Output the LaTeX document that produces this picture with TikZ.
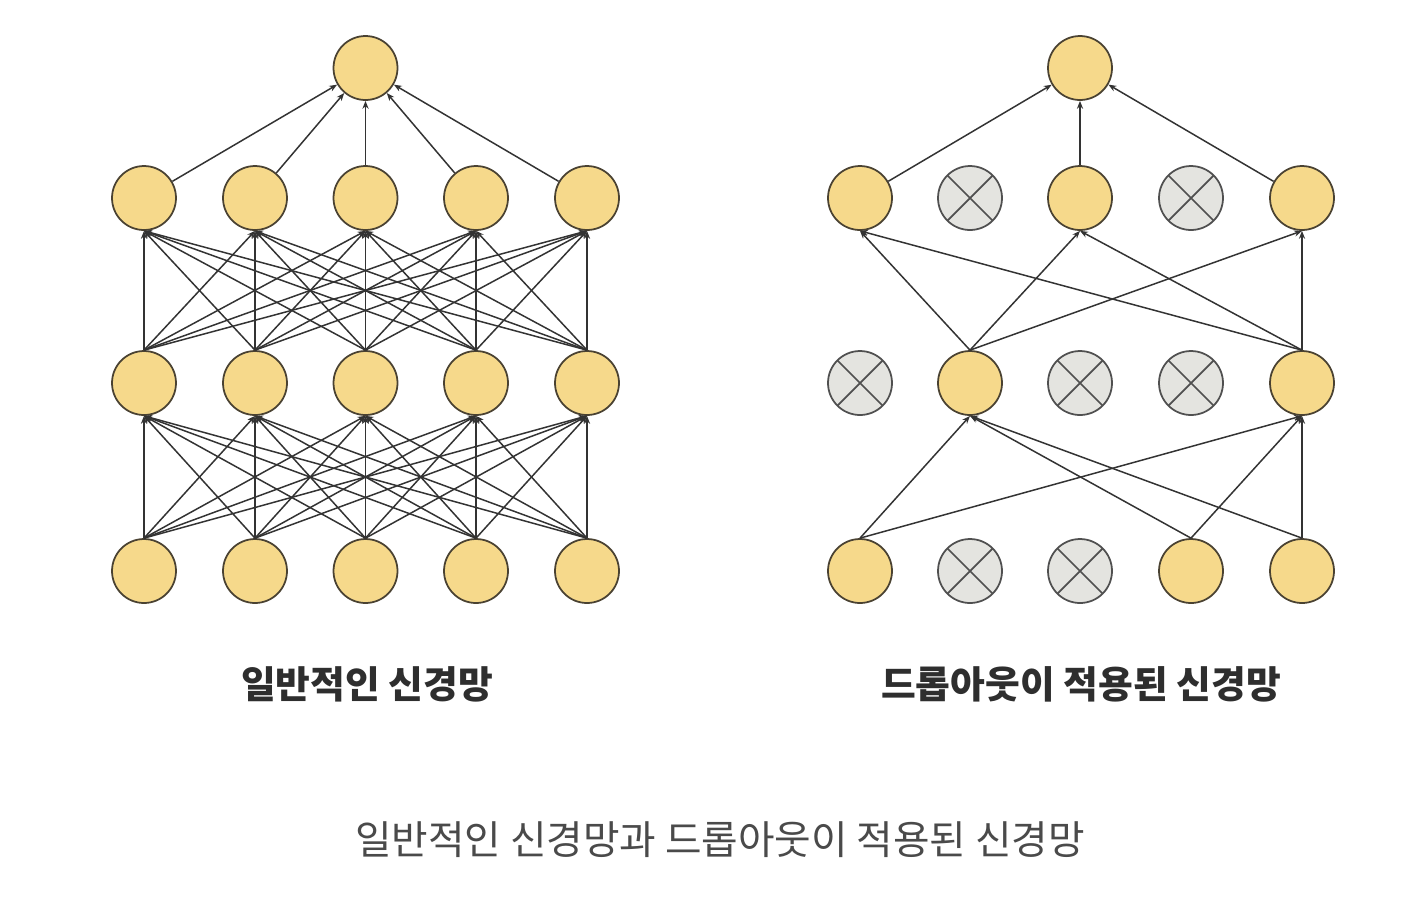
\documentclass[tikz,border=0pt]{standalone}
\usepackage{fontspec}
\newfontfamily\kr{Noto Sans CJK KR}
\usetikzlibrary{arrows.meta, positioning}
\definecolor{unitfill}{HTML}{F6D98B}
\definecolor{unitline}{HTML}{4A4232}
\definecolor{dropfill}{HTML}{E4E4E0}
\definecolor{dropline}{HTML}{505050}
\definecolor{linkcol}{HTML}{333333}
\definecolor{textcol}{HTML}{2E2E2E}
\definecolor{captcol}{HTML}{4A4A4A}
\tikzset{
  unit/.style={circle, draw=unitline, fill=unitfill, line width=1pt,
    minimum size=1.28cm, inner sep=0pt},
  dropped/.style={unit, draw=dropline, fill=dropfill,
    path picture={\draw[dropline, line width=1pt]
      (path picture bounding box.north west) -- (path picture bounding box.south east)
      (path picture bounding box.north east) -- (path picture bounding box.south west);}},
  link/.style={draw=linkcol, line width=0.85pt, -{Stealth[length=4.5pt, width=3.5pt]}},
  title/.style={font=\kr\bfseries\fontsize{21.5}{25}\selectfont, text=textcol},
}

\begin{document}
\begin{tikzpicture}[x=0.02cm, y=-0.02cm]
    \useasboundingbox (0,0) rectangle (1417,921);
    % plain network
    \foreach \i/\x in {1/144, 2/255, 3/365.5, 4/476, 5/587} {
        \node[unit] (la\i) at (\x, 571) {};
        \node[unit] (lb\i) at (\x, 383) {};
        \node[unit] (lc\i) at (\x, 198) {};
    }
    \node[unit] (ltop) at (365.5, 68) {};
    \foreach \i in {1,...,5} {
        \foreach \j in {1,...,5} {
            \draw[link] (la\i.north) -- (lb\j.south);
            \draw[link] (lb\i.north) -- (lc\j.south);
        }
        \draw[link] (lc\i) -- (ltop);
    }
    % network with dropout
    \foreach \i/\x/\sa/\sb/\sc in {1/860/unit/dropped/unit, 2/970/dropped/unit/dropped,
        3/1080/dropped/dropped/unit, 4/1191/unit/dropped/dropped, 5/1302/unit/unit/unit} {
        \node[\sa] (ra\i) at (\x, 571) {};
        \node[\sb] (rb\i) at (\x, 383) {};
        \node[\sc] (rc\i) at (\x, 198) {};
    }
    \node[unit] (rtop) at (1080, 68) {};
    \foreach \i in {1,4,5} {
        \foreach \j in {2,5} {
            \draw[link] (ra\i.north) -- (rb\j.south);
        }
    }
    \foreach \i in {2,5} {
        \foreach \j in {1,3,5} {
            \draw[link] (rb\i.north) -- (rc\j.south);
        }
    }
    \foreach \j in {1,3,5} {
        \draw[link] (rc\j) -- (rtop);
    }
    % titles
    \node[title] (lname) at (367, 684) {일반적인 신경망};
    \node[title] (rname) at (1081, 684) {드롭아웃이 적용된 신경망};
    \node[font=\kr\fontsize{22.6}{26}\selectfont, text=captcol] (caption) at (720, 840)
        {일반적인 신경망과 드롭아웃이 적용된 신경망};
\end{tikzpicture}
\end{document}
